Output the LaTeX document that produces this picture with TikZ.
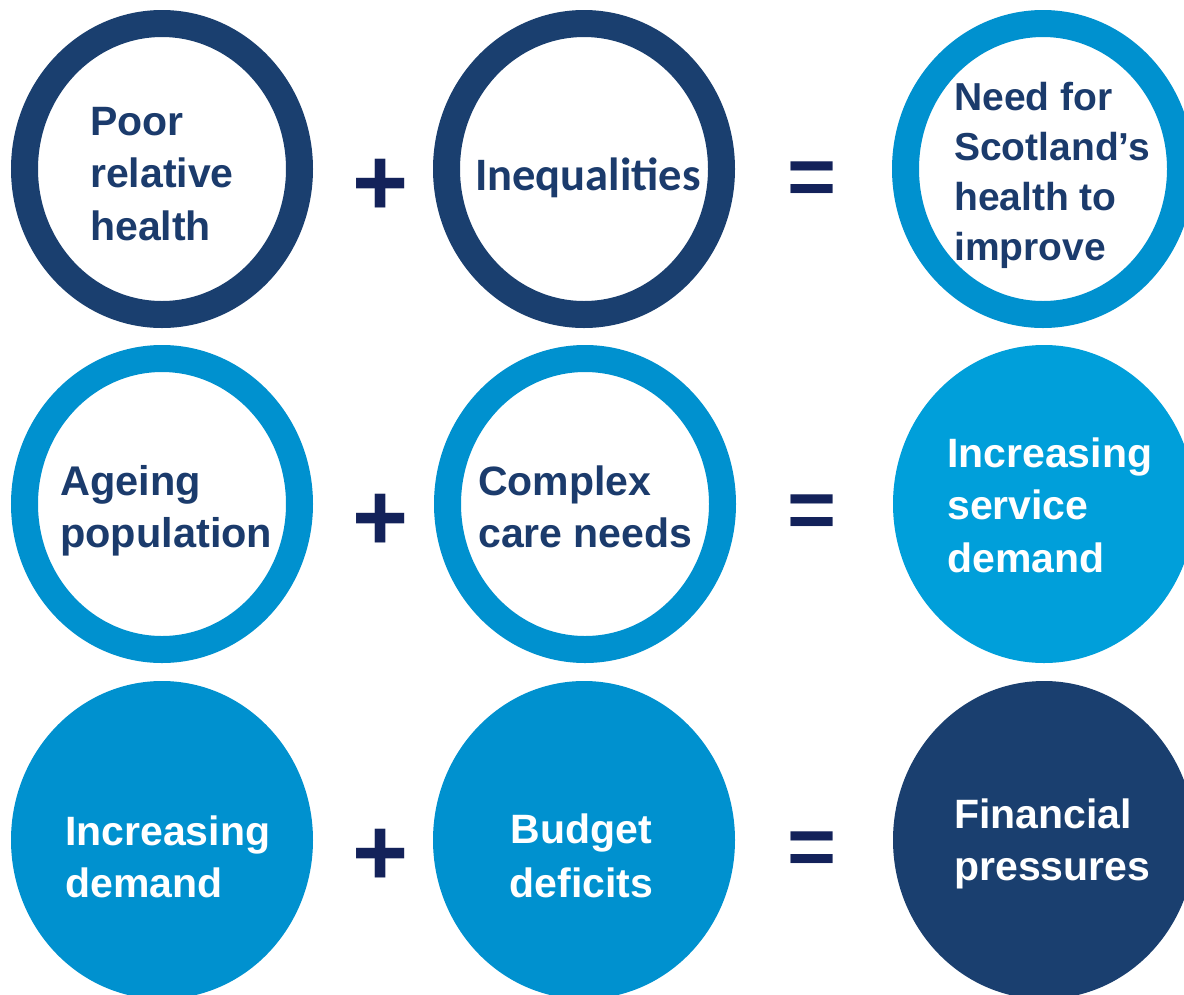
\documentclass[tikz,border=0pt]{standalone}
\usepackage{fontspec}
\setmainfont{Liberation Sans}
\newfontfamily\calfont{Carlito}
\usetikzlibrary{shapes.geometric}
\definecolor{navy}{HTML}{1A3F6F}
\definecolor{sky}{HTML}{0091CF}
\definecolor{skylt}{HTML}{009FDA}
\definecolor{txtnavy}{HTML}{1B3B6C}
\definecolor{opnavy}{HTML}{13225A}
\tikzset{
  ring/.style={ellipse, draw=#1, line width=27pt, fill=white, inner sep=0pt,
    minimum width=275pt, minimum height=291pt},
  disc/.style={ellipse, fill=#1, inner sep=0pt,
    minimum width=302pt, minimum height=318pt},
  lbl/.style={align=left, anchor=base west, inner sep=0pt,
    font=\bfseries\fontsize{41}{52.5}\selectfont},
  opsign/.style={inner sep=0pt, text=opnavy, font=\bfseries\fontsize{96}{96}\selectfont},
  eqsign/.style={inner sep=0pt, text=opnavy, font=\bfseries\fontsize{84}{84}\selectfont},
}
\begin{document}
\begin{tikzpicture}[x=1pt,y=-1pt]
\useasboundingbox (0,0) rectangle (1184,994);
\clip (0,0) rectangle (1184,994);
\fill[white] (0,0) rectangle (1184,994);

% row 1
\node[ring=navy] (c1) at (162,169) {};
\node[ring=navy] (c2) at (584,169) {};
\node[ring=sky]  (c3) at (1043,169) {};
% row 2
\node[ring=sky]  (c4) at (162,504) {};
\node[ring=sky]  (c5) at (585,504) {};
\node[disc=skylt] (c6) at (1044,504) {};
% row 3
\node[disc=sky]  (c7) at (162,840) {};
\node[disc=sky]  (c8) at (584,840) {};
\node[disc=navy] (c9) at (1044,840) {};

% labels (anchor = baseline of last line)
\node[lbl, text=txtnavy] (t1) at (90,240) {Poor\\relative\\health};
\node[inner sep=0pt, anchor=base west, text=txtnavy,
      font=\calfont\bfseries\fontsize{46.5}{52}\selectfont] (t2) at (475,190) {Inequalities};
\node[lbl, text=txtnavy, font=\bfseries\fontsize{39}{50}\selectfont] (t3) at (954,260)
  {Need for\\Scotland’s\\health to\\improve};
\node[lbl, text=txtnavy, font=\bfseries\fontsize{41.5}{52}\selectfont] (t4) at (60,547) {Ageing\\population};
\node[lbl, text=txtnavy, font=\bfseries\fontsize{41}{52}\selectfont] (t5) at (478,547) {Complex\\care needs};
\node[lbl, text=white] (t6) at (947,572) {Increasing\\service\\demand};
\node[lbl, text=white, font=\bfseries\fontsize{41}{52}\selectfont] (t7) at (65,897) {Increasing\\demand};
\node[lbl, text=white, align=center, anchor=base, font=\bfseries\fontsize{41}{54}\selectfont] (t8) at (581.5,897) {Budget\\deficits};
\node[lbl, text=white, font=\bfseries\fontsize{41}{52}\selectfont] (t9) at (954,880) {Financial\\pressures};

% operators
\node[opsign] (p1) at (380.5,187.5) {+};
\node[opsign] (p2) at (380.5,522) {+};
\node[opsign] (p3) at (380.5,857.5) {+};
\node[eqsign] (e1) at (812.5,184) {=};
\node[eqsign] (e2) at (812.5,516.5) {=};
\node[eqsign] (e3) at (812.5,854) {=};
\end{tikzpicture}
\end{document}
